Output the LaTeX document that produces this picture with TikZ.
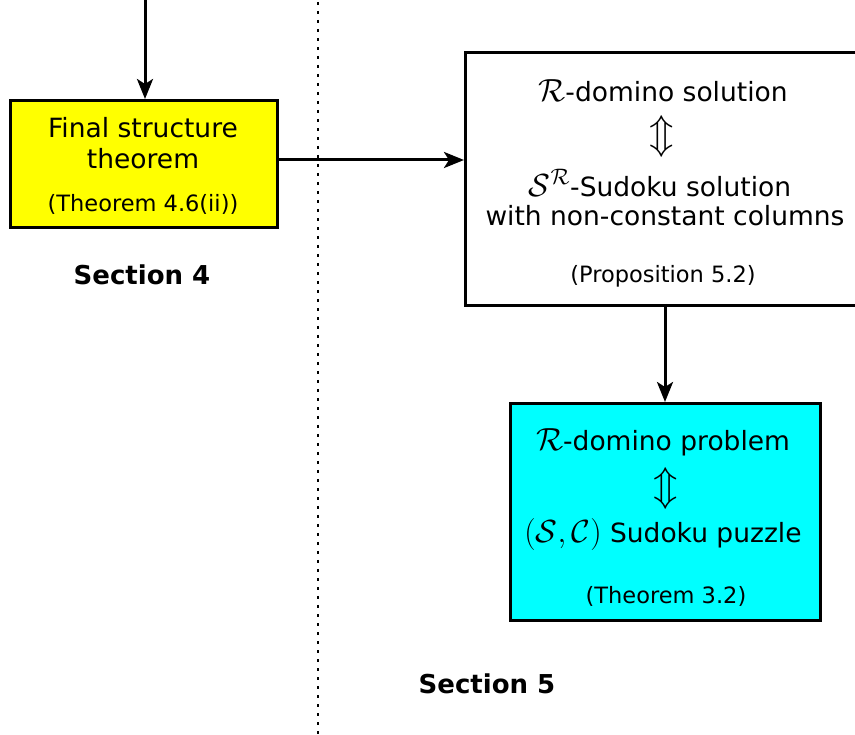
\RequirePackage{fix-cm}
\documentclass[tikz,border=0pt]{standalone}
\usepackage{fontspec}
\setmainfont{DejaVu Sans}
\usetikzlibrary{arrows.meta}
\definecolor{yel}{RGB}{255,255,0}
\definecolor{cya}{RGB}{0,255,255}
\newcommand{\bigmath}[1]{{\fontsize{32}{36}\selectfont$#1$}}
\begin{document}
\begin{tikzpicture}[x=1pt,y=-1pt,
  box/.style={draw=black,line width=3pt,rectangle,inner sep=0pt,anchor=north west},
  big/.style={font=\fontsize{26.5}{30}\selectfont,inner sep=0pt,align=center},
  equiv/.style={font=\fontsize{40}{44}\selectfont,inner sep=0pt},
  small/.style={font=\fontsize{22.5}{26}\selectfont,inner sep=0pt},
  sect/.style={font=\bfseries\fontsize{26}{30}\selectfont,inner sep=0pt},
  arr/.style={line width=3pt,-{Stealth[length=20pt,width=16pt,inset=5pt]}}]
\useasboundingbox (0,0) rectangle (855,735);
\clip (0,0) rectangle (855,735);
\fill[white] (0,0) rectangle (855,735);
% dotted separator
\draw[line width=2.8pt,dash pattern=on 2.8pt off 6.2pt] (318,2) -- (318,735);
% boxes
\node[box,fill=yel,minimum width=267pt,minimum height=127pt] (fst) at (9,99) {};
\node[box,fill=white,minimum width=420pt,minimum height=253pt] (prop) at (464,51) {};
\node[box,fill=cya,minimum width=310pt,minimum height=217pt] (thm) at (509,402) {};
% connectors
\coordinate (top) at (145,0);
\draw[arr] (top) -- (fst.north -| top);
\coordinate (fr) at (fst.east |- 0,160);
\draw[arr] (fr) -- (prop.west |- fr);
\coordinate (pb) at (665,304);
\draw[arr] (pb) -- (thm.north -| pb);
% yellow text
\node[big] (t1) at (143,128) {Final structure};
\node[big] (t2) at (143,159) {theorem};
\node[small] (t3) at (143,204) {(Theorem 4.6(ii))};
\node[sect] (s4) at (142,275) {Section 4};
% white text
\node[big] (p1) at (663,91) {\bigmath{\mathcal{R}}-domino solution};
\node[equiv] (p2) at (662,137) {$\Updownarrow$};
\node[big] (p3) at (660,183) {\bigmath{\mathcal{S}^{\mathcal{R}}}-Sudoku solution};
\node[big] (p4) at (665,216) {with non-constant columns};
\node[small] (p5) at (663,276) {(Proposition 5.2)};
% cyan text
\node[big] (c1) at (663,442) {\bigmath{\mathcal{R}}-domino problem};
\node[equiv] (c2) at (666,488) {$\Updownarrow$};
\node[big] (c3) at (663,535) {\bigmath{(\mathcal{S},\mathcal{C})} Sudoku puzzle};
\node[small] (c4) at (666,596) {(Theorem 3.2)};
\node[sect] (s5) at (487,684) {Section 5};
\end{tikzpicture}
\end{document}
